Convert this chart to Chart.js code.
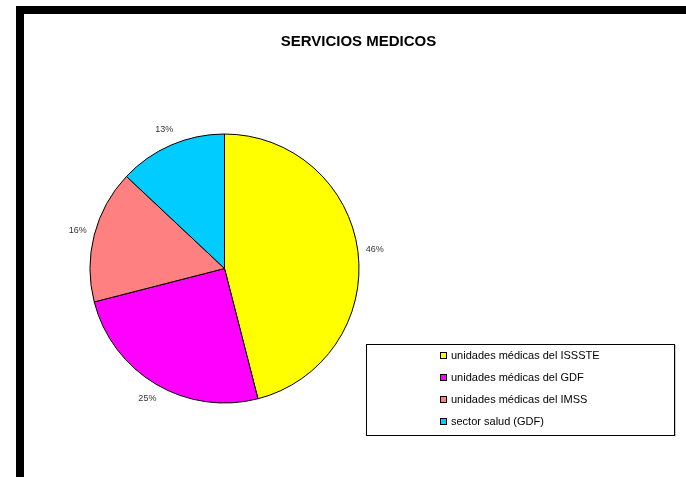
<!DOCTYPE html>
<html>
<head>
<meta charset="utf-8">
<script src="https://cdn.jsdelivr.net/npm/chart.js@4/dist/chart.umd.min.js"></script>
<style>
  html, body { margin: 0; padding: 0; background: #fff; }
  #wrap { position: relative; width: 686px; height: 477px; }
  /* thick frame on top and left */
  #frameTop { position: absolute; left: 16px; top: 6px; width: 670px; height: 8px; background: #000; }
  #frameLeft { position: absolute; left: 16px; top: 6px; width: 8px; height: 471px; background: #000; }
  canvas { position: absolute; left: 0; top: 0; }
</style>
</head>
<body>
<div id="wrap">
  <canvas id="myChart" width="686" height="477"></canvas>
  <div id="frameTop"></div>
  <div id="frameLeft"></div>
</div>
<script>
var chartTitle = "SERVICIOS MEDICOS";
var labels = ["unidades médicas del ISSSTE", "unidades médicas del GDF", "unidades médicas del IMSS", "sector salud (GDF)"];
var values = [46, 25, 16, 13];
var colors = ["#FFFF00", "#FF00FF", "#FF8080", "#00CCFF"];

// title centred over the whole page, not just the pie area
var pageTitle = {
    id: 'pageTitle',
    afterDraw: function(chart) {
        var ctx = chart.ctx;
        ctx.save();
        ctx.font = 'bold 15px "Liberation Sans", Arial, sans-serif';
        ctx.fillStyle = '#000';
        ctx.textAlign = 'center';
        ctx.textBaseline = 'middle';
        ctx.fillText(chartTitle, 358.5, 42);
        ctx.restore();
    }
};

// percentage labels just outside each slice
var sliceLabels = {
    id: 'sliceLabels',
    afterDatasetsDraw: function(chart) {
        var ctx = chart.ctx;
        var meta = chart.getDatasetMeta(0);
        var data = chart.data.datasets[0].data;
        var total = data.reduce(function(a, b) { return a + b; }, 0);
        ctx.save();
        ctx.font = '9px "Liberation Sans", Arial, sans-serif';
        ctx.fillStyle = '#333';
        ctx.textAlign = 'center';
        ctx.textBaseline = 'middle';
        meta.data.forEach(function(arc, i) {
            var p = arc.getProps(['x', 'y', 'startAngle', 'endAngle', 'outerRadius'], true);
            var mid = (p.startAngle + p.endAngle) / 2;
            var d = p.outerRadius + 17;
            var txt = Math.round(data[i] / total * 100) + '%';
            ctx.fillText(txt, p.x + Math.cos(mid) * d, p.y + Math.sin(mid) * d);
        });
        ctx.restore();
    }
};

// boxed legend at the lower right
var boxLegend = {
    id: 'boxLegend',
    afterDraw: function(chart) {
        var ctx = chart.ctx;
        var ds = chart.data.datasets[0];
        var bx = 366, by = 344, bw = 308, bh = 91;
        ctx.save();
        ctx.fillStyle = '#fff';
        ctx.fillRect(bx, by, bw, bh);
        ctx.strokeStyle = '#ccc';
        ctx.lineWidth = 1;
        ctx.beginPath();
        ctx.moveTo(bx + bw + 1.5, by + 1);
        ctx.lineTo(bx + bw + 1.5, by + bh + 1.5);
        ctx.stroke();
        ctx.strokeStyle = '#000';
        ctx.strokeRect(bx + 0.5, by + 0.5, bw, bh);
        ctx.font = '11px "Liberation Sans", Arial, sans-serif';
        ctx.textBaseline = 'middle';
        ctx.textAlign = 'left';
        chart.data.labels.forEach(function(lab, i) {
            var y = 355 + i * 22;
            ctx.fillStyle = ds.backgroundColor[i];
            ctx.fillRect(440, y - 3, 6, 6);
            ctx.strokeStyle = '#000';
            ctx.strokeRect(440.5, y - 2.5, 6, 6);
            ctx.fillStyle = '#000';
            ctx.fillText(lab, 451, y + 1);
        });
        ctx.restore();
    }
};

var ctx = document.getElementById('myChart').getContext('2d');
var chart = new Chart(ctx, {
    type: 'pie',
    data: {
        labels: labels,
        datasets: [{
            data: values,
            backgroundColor: colors,
            borderColor: '#000',
            borderWidth: 1
        }]
    },
    options: {
        responsive: false,
        animation: false,
        layout: {
            padding: { left: 89.5, right: 326.5, top: 133.5, bottom: 73.5 }
        },
        plugins: {
            legend: { display: false },
            tooltip: { enabled: false },
            title: { display: false }
        }
    },
    plugins: [pageTitle, sliceLabels, boxLegend]
});
</script>
</body>
</html>
